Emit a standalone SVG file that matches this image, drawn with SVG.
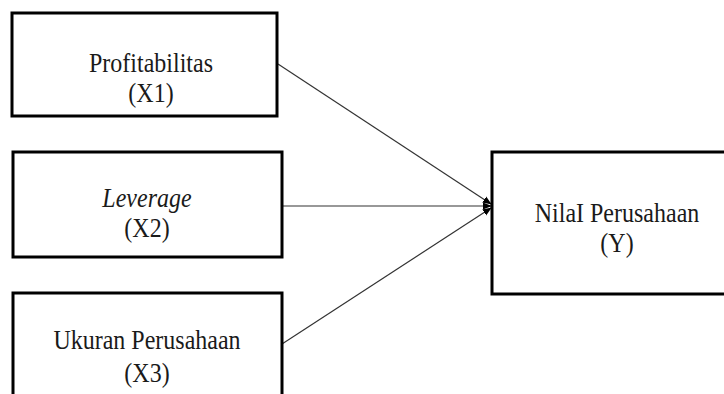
<svg xmlns="http://www.w3.org/2000/svg" width="724" height="394" viewBox="0 0 724 394">
<style>
.box{fill:#fff;stroke:#000;stroke-width:3}
.t{font-family:"Liberation Serif","Times New Roman",serif;font-size:24px;fill:#1a1a1a;text-anchor:middle}
.c{stroke:#333;stroke-width:1.2;fill:none;marker-end:url(#ah)}
</style>
<defs>
<marker id="ah" viewBox="0 0 10 10" refX="9" refY="5" markerWidth="9" markerHeight="9" orient="auto" markerUnits="userSpaceOnUse">
<path d="M0,1 L10,5 L0,9 z" fill="#000"/>
</marker>
</defs>
<rect width="724" height="394" fill="#fff"/>
<g id="connectors">
<line class="c" x1="278" y1="64" x2="491" y2="204"/>
<line class="c" x1="282" y1="206" x2="491" y2="206"/>
<line class="c" x1="282" y1="344" x2="491" y2="208"/>
</g>
<g id="x1">
<rect class="box" x="12" y="13" width="265" height="103"/>
<text class="t" transform="translate(151,72) scale(1,1.15)">Profitabilitas</text>
<text class="t" transform="translate(151,102) scale(1,1.15)">(X1)</text>
</g>
<g id="x2">
<rect class="box" x="13" y="152" width="269" height="105"/>
<text class="t" transform="translate(147,207) scale(1,1.15)" font-style="italic">Leverage</text>
<text class="t" transform="translate(147,237) scale(1,1.15)">(X2)</text>
</g>
<g id="x3">
<rect class="box" x="13" y="293" width="269" height="110"/>
<text class="t" transform="translate(147,349) scale(1,1.15)">Ukuran Perusahaan</text>
<text class="t" transform="translate(147,382) scale(1,1.15)">(X3)</text>
</g>
<g id="y">
<rect class="box" x="492" y="152" width="253" height="142"/>
<text class="t" transform="translate(617,222) scale(1,1.15)">NilaI Perusahaan</text>
<text class="t" transform="translate(617,252) scale(1,1.15)">(Y)</text>
</g>
</svg>
